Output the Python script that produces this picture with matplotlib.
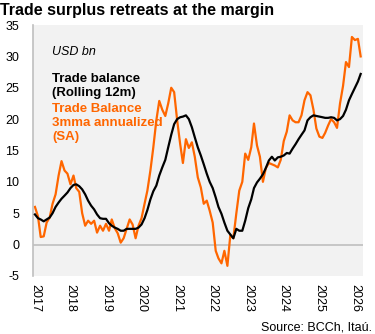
import matplotlib
matplotlib.use("Agg")
import matplotlib.pyplot as plt
import pandas as pd
import numpy as np

plt.rcParams['font.family'] = ['Liberation Sans', 'DejaVu Sans']

dates = pd.date_range("2017-01-01", periods=111, freq="MS")

trade_balance_12m = [
    4.8, 4.2, 4.0, 3.7, 4.0, 4.3, 5.0, 6.0, 6.7, 7.3, 7.8, 8.3,
    9.0, 9.5, 9.6, 9.3, 8.8, 8.0, 7.0, 6.2, 5.6, 4.8, 4.2, 4.1,
    4.1, 3.4, 3.0, 2.7, 2.5, 2.2, 2.2, 2.5, 2.5, 2.5, 2.5, 2.7,
    3.2, 4.2, 5.5, 7.2, 8.5, 9.4, 11.0, 12.3, 13.5, 15.5, 17.5, 19.2,
    20.0, 20.3, 20.4, 20.6, 20.0, 18.7, 17.1, 15.5, 14.2, 12.8, 11.3, 10.0,
    9.0, 7.5, 6.0, 4.9, 3.5, 2.2, 1.6, 1.0, 2.5, 2.2, 2.2, 3.8,
    5.8, 7.2, 9.0, 9.9, 10.5, 11.2, 12.2, 13.4, 14.0, 13.4, 13.9, 14.0,
    14.2, 14.6, 14.5, 15.3, 16.0, 16.8, 17.5, 18.2, 19.8, 20.3, 20.6, 20.5,
    20.4, 20.3, 20.2, 20.2, 20.3, 20.2, 19.8, 20.0, 20.5, 21.5, 23.0, 24.0,
    25.0, 26.0, 27.2,
]

trade_balance_3mma = [
    6.0, 4.5, 1.2, 1.3, 3.5, 4.3, 6.5, 8.0, 11.0, 13.3, 11.8, 11.3,
    9.6, 11.0, 9.0, 8.4, 5.0, 3.0, 3.8, 3.3, 3.8, 1.9, 3.0, 2.2,
    3.3, 2.2, 4.0, 2.6, 1.8, 0.3, 1.0, 2.5, 4.0, 3.2, 1.0, 3.0,
    4.2, 6.5, 8.6, 11.8, 15.5, 19.8, 22.9, 21.5, 20.5, 22.5, 25.0, 24.3,
    19.8, 16.0, 13.0, 16.8, 15.4, 16.3, 14.0, 10.7, 9.1, 6.5, 7.0, 5.4,
    3.5, -1.0, -2.2, -3.0, -1.0, -3.4, 1.5, 1.0, 5.0, 8.6, 10.0, 14.5,
    13.5, 15.5, 19.3, 15.8, 14.0, 10.0, 12.2, 13.0, 12.8, 12.6, 12.3, 13.5,
    16.5, 18.0, 20.6, 19.8, 19.5, 19.5, 20.6, 23.0, 24.3, 23.8, 21.5, 18.5,
    17.2, 17.0, 17.8, 19.0, 20.0, 19.5, 18.6, 22.5, 25.3, 29.1, 28.3, 33.1,
    32.6, 32.8, 30.0,
]

years = list(range(2017, 2027))
y_ticks = [-5, 0, 5, 10, 15, 20, 25, 30, 35]

orange = "#FF6600"

fig = plt.figure(figsize=(3.75, 3.34), dpi=100)
ax = fig.add_axes([0.088, 0.174, 0.88, 0.751])
ax.set_facecolor("#F2F2F2")

ax.axhline(0, color="#BFBFBF", lw=1.2, zorder=1)
ax.plot(dates, trade_balance_12m, color="black", lw=1.6, zorder=3)
ax.plot(dates, trade_balance_3mma, color=orange, lw=1.6, zorder=2)

ax.set_ylim(-5, 35)
ax.set_yticks(y_ticks)
ax.set_yticklabels([str(v) for v in y_ticks], fontsize=9)
tick_dates = [pd.Timestamp(f"{y}-01-01") for y in years]
ax.set_xticks(tick_dates)
ax.set_xticklabels([str(y) for y in years], rotation=270, fontsize=9, va="top", ha="center")
ax.set_xlim(pd.Timestamp("2016-12-12"), pd.Timestamp("2026-03-25"))
ax.tick_params(axis="both", length=0)
ax.tick_params(axis="y", pad=10)
ax.tick_params(axis="x", pad=6)

for s in ["top", "right", "bottom"]:
    ax.spines[s].set_visible(False)
ax.spines["left"].set_color("#BFBFBF")
ax.spines["left"].set_linewidth(1.2)

fig.text(0.0, 0.955, "Trade surplus retreats at the margin", fontsize=11.5,
         fontweight="bold", ha="left", va="baseline")

fig.text(52/375, 1-55/334, "USD bn", fontsize=9, style="italic", ha="left", va="baseline")
fig.text(52/375, 1-73/334, "Trade balance\n(Rolling 12m)", fontsize=9.5, fontweight="bold",
         ha="left", va="top", linespacing=1.2, color="black")
fig.text(52/375, 1-103/334, "Trade Balance\n3mma annualized\n(SA)", fontsize=9.5,
         fontweight="bold", ha="left", va="top", linespacing=1.2, color=orange)

fig.text(0.992, 1-330/334, "Source: BCCh, Itaú.", fontsize=9, ha="right", va="baseline")

fig.savefig("out.png", dpi=100)
